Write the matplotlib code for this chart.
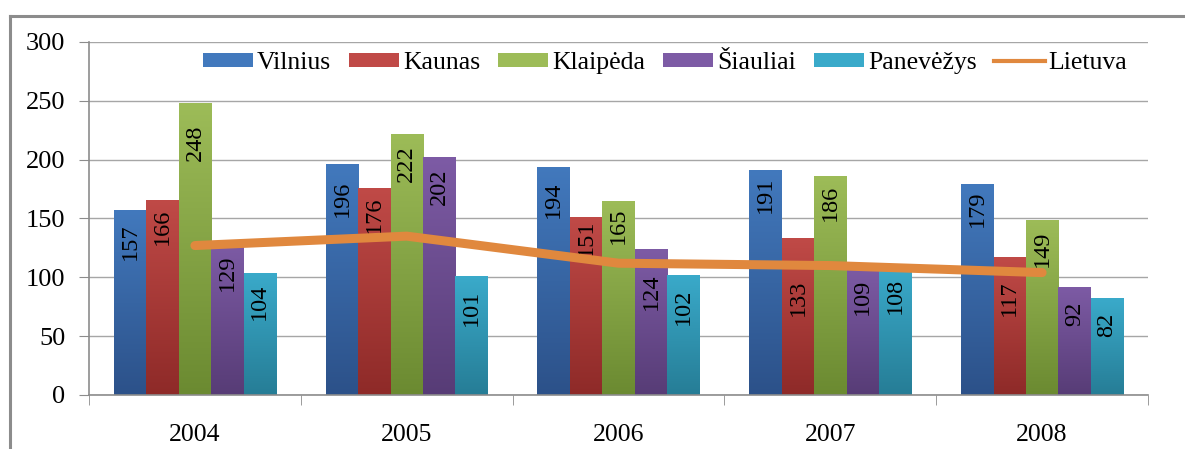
import numpy as np
import matplotlib
matplotlib.use("Agg")
import matplotlib.pyplot as plt
from matplotlib.colors import LinearSegmentedColormap
from matplotlib.patches import Rectangle
from matplotlib.lines import Line2D

years = ["2004", "2005", "2006", "2007", "2008"]
cities = ["Vilnius", "Kaunas", "Klaipėda", "Šiauliai", "Panevėžys"]
vilnius = [157, 196, 194, 191, 179]
kaunas = [166, 176, 151, 133, 117]
klaipeda = [248, 222, 165, 186, 149]
siauliai = [129, 202, 124, 109, 92]
panevezys = [104, 101, 102, 108, 82]
lietuva = [127, 135, 112, 110, 104]

# where the value labels sit (centre, in axis units)
label_y = [
    [130, 167, 166, 170, 158],
    [143, 153, 134, 83, 82],
    [214, 197, 144, 163, 124],
    [104, 177, 88, 83, 69],
    [79, 74, 75, 84, 60],
]

# (top colour, bottom colour) per series
grad = [
    ("#4279bd", "#2c5189"),
    ("#c04a47", "#8e2a28"),
    ("#9dbc58", "#6b8a31"),
    ("#7d5ba5", "#573c76"),
    ("#3aaaca", "#267d96"),
]
line_col = "#e0883e"
serif = ["Liberation Serif", "DejaVu Serif"]
plt.rcParams["font.family"] = serif

fig = plt.figure(figsize=(11.85, 4.49), dpi=100)
ax = fig.add_axes([0.0751, 0.1203, 0.8937, 0.7862])

# outer chart frame (left and top edges visible)
fig.add_artist(Line2D([10 / 1185, 10 / 1185], [0, 1 - 16 / 449], transform=fig.transFigure,
                      color="#8c8c8c", lw=2.2))
fig.add_artist(Line2D([10 / 1185, 1], [1 - 16 / 449, 1 - 16 / 449], transform=fig.transFigure,
                      color="#8c8c8c", lw=2.2))

series = [vilnius, kaunas, klaipeda, siauliai, panevezys]
x = np.arange(len(years))
w = 0.153
ramp = np.linspace(0, 1, 256).reshape(-1, 1)
handles = []
for i, vals in enumerate(series):
    off = (i - 2) * w
    top, bot = grad[i]
    cmap = LinearSegmentedColormap.from_list(f"g{i}", [bot, top])
    bars = ax.bar(x + off, vals, w, color=top, edgecolor="none", zorder=2)
    for b in bars:
        x0, y0 = b.get_x(), b.get_y()
        im = ax.imshow(ramp, cmap=cmap, origin="lower", aspect="auto",
                       extent=(x0, x0 + b.get_width(), y0, y0 + b.get_height()), zorder=2.1)
        im.set_clip_path(b)
    for j, v in enumerate(vals):
        ax.text(x[j] + off, label_y[i][j], str(v), rotation=90, ha="center", va="center",
                fontsize=17.5, color="black", zorder=3)
    handles.append(Rectangle((0, 0), 1, 1, facecolor=top, edgecolor="none"))

ax.plot(x, lietuva, color=line_col, lw=6.5, solid_capstyle="round", zorder=4)
handles.append(Line2D([], [], color=line_col, lw=3))

ax.set_xlim(-0.5, 4.5)
ax.set_ylim(0, 300)
ax.set_yticks(range(0, 301, 50))
ax.yaxis.grid(True, color="#a6a6a6", lw=1)
ax.set_axisbelow(True)
ax.set_xticks(x)
ax.set_xticklabels(years)
ax.set_xticks(np.arange(-0.5, 5, 1), minor=True)
ax.tick_params(axis="x", which="major", length=0, pad=21, labelsize=18.5)
ax.tick_params(axis="x", which="minor", length=7, color="#8c8c8c", direction="out")
ax.tick_params(axis="y", length=7, color="#8c8c8c", pad=10, labelsize=19)
for s in ["top", "right"]:
    ax.spines[s].set_visible(False)
for s in ["left", "bottom"]:
    ax.spines[s].set_color("#8c8c8c")
    ax.spines[s].set_linewidth(1.2)

ax.legend(handles, cities + ["Lietuva"], ncol=6, frameon=False, fontsize=18.5,
          loc="center right", bbox_to_anchor=(0.99, 0.94),
          handlelength=1.95, handleheight=0.45, handletextpad=0.15, columnspacing=0.7,
          borderaxespad=0)

fig.savefig("out.png", dpi=100)
